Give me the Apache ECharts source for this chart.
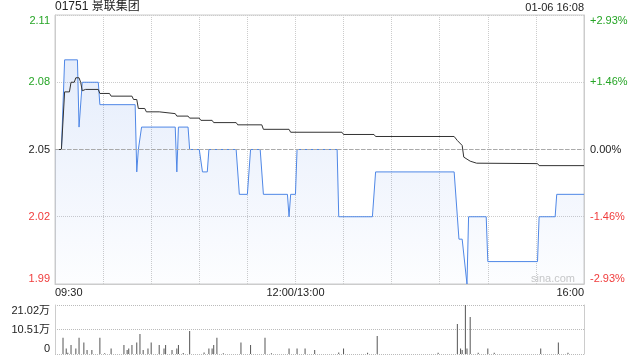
<!DOCTYPE html>
<html>
<head>
<meta charset="utf-8">
<script src="https://cdn.jsdelivr.net/npm/echarts@6/dist/echarts.min.js"></script>
<style>
html,body{margin:0;padding:0;background:#fff;}
#chart{width:640px;height:360px;}
</style>
</head>
<body>
<div id="chart"></div>
<script>
// ---- data ----
const stockTitle = '01751 景联集团';
const stampText = '01-06 16:08';
const prevClose = 2.05;
const priceMin = 1.99;
const priceMax = 2.11;
const priceStep = 0.03;
const volMax = 210200;

const xTickTimes = ['09:30', '12:00', '16:00'];
const xTickLabels = ['09:30', '12:00/13:00', '16:00'];

const priceTimes = ['09:30','09:34','09:36','09:44','09:45','09:47','09:57','09:58','10:20','10:21','10:22','10:24',
  '10:45','10:46','10:47','10:53','10:54','11:00','11:02','11:05','11:06','11:23','11:25','11:30','11:32','11:38',
  '11:40','11:55','11:56','11:57','12:00','13:01','13:26','13:27','13:48','13:50','14:39','14:41','14:42','14:44',
  '14:47','14:48','14:59','15:00','15:31','15:32','15:42','15:43','16:00'];
const priceValues = [2.05,2.05,2.09,2.09,2.06,2.08,2.08,2.07,2.07,2.04,2.05,2.06,
  2.06,2.04,2.06,2.06,2.05,2.05,2.04,2.04,2.05,2.05,2.03,2.03,2.05,2.05,
  2.03,2.03,2.02,2.03,2.03,2.05,2.05,2.02,2.02,2.04,2.04,2.02,2.01,2.01,
  1.99,2.02,2.02,2.00,2.00,2.02,2.02,2.03,2.03];

const avgTimes = ['09:30','09:34','09:36','09:39','09:40','09:42','09:43','09:45','09:46','09:47','09:49','09:57',
  '09:58','10:04','10:05','10:18','10:19','10:21','10:22','10:26','10:27','10:35','10:36','10:45','10:46','10:53',
  '10:54','11:00','11:01','11:08','11:09','11:23','11:24','11:39','11:40','11:56','11:57','13:29','13:30','13:49',
  '13:50','14:39','14:41','14:44','14:45','14:46','14:49','14:53','14:54','15:31','15:32','16:00'];
const avgValues = [2.05,2.05,2.0757,2.0757,2.08,2.08,2.082,2.082,2.08,2.0762,2.0768,2.0768,
  2.075,2.075,2.0738,2.0738,2.0723,2.0723,2.0683,2.0683,2.0668,2.0668,2.066,2.066,2.0649,2.0649,
  2.064,2.064,2.063,2.063,2.062,2.062,2.061,2.061,2.059,2.059,2.0577,2.0577,2.0567,2.0567,
  2.0558,2.0558,2.054,2.0518,2.0466,2.046,2.0448,2.0439,2.0437,2.0437,2.0428,2.0428];

const volTimes = ['09:35','09:37','09:38','09:40','09:43','09:45','09:48','09:50','09:53','09:58','10:01','10:05',
  '10:13','10:15','10:16','10:18','10:21','10:23','10:25','10:28','10:30','10:35','10:38','10:39','10:43','10:46',
  '10:47','10:50','10:54','11:03','11:06','11:08','11:09','11:11','11:15','11:26','11:32','11:41','11:45','11:56',
  '13:01','13:06','13:12','13:27','13:30','13:45','13:51','14:29','14:41','14:43','14:44','14:46','14:47','14:49',
  '14:54','15:00','15:04','15:33','15:44','15:50'];
const volValues = [70000,24000,5000,39000,24000,70000,49000,17000,17000,70000,3000,24000,
  39000,17000,24000,39000,49000,86000,17000,24000,49000,39000,24000,39000,17000,24000,
  39000,4000,99000,6000,24000,24000,39000,70000,3000,49000,39000,70000,3000,24000,
  24000,24000,17000,6000,24000,5000,77000,5000,129000,24000,17000,210200,24000,159000,
  5000,24000,5000,24000,49000,5000];

// ---- helpers ----
function toIdx(t) {
  const p = t.split(':').map(Number);
  let m = p[0] * 60 + p[1] - (9 * 60 + 30);
  if (p[0] >= 13) m -= 60;
  return m;
}
const pair = (ts, vs) => ts.map((t, i) => [toIdx(t), vs[i]]);
const xLabelMap = {};
xTickTimes.forEach((t, i) => { xLabelMap[toIdx(t)] = xTickLabels[i]; });

const GREEN = '#26a526', RED = '#f03c3c', TXT = '#222';
const FONT = 'Arial, "Liberation Sans", "Noto Sans CJK SC", sans-serif';
const colorFor = v => {
  const d = Math.round((v - prevClose) * 10000);
  return d > 0 ? GREEN : (d < 0 ? RED : TXT);
};

const chart = echarts.init(document.getElementById('chart'), null, {renderer: 'canvas'});
chart.setOption({
  animation: false,
  backgroundColor: '#fff',
  textStyle: {fontFamily: FONT},
  title: [
    {text: stockTitle, left: 55, top: 1, padding: 0,
     textStyle: {fontSize: 12, fontWeight: 'normal', color: TXT, fontFamily: FONT}},
    {text: stampText, right: 56, top: 2, padding: 0,
     textStyle: {fontSize: 11, fontWeight: 'normal', color: TXT, fontFamily: FONT}}
  ],
  graphic: [{type: 'text', left: 531, top: 273, silent: true,
    style: {text: 'sina.com', fill: '#c8c8c8', font: '11px Arial, "Liberation Sans", sans-serif'}}],
  grid: [
    {left: 55, right: 56, top: 15, height: 269, show: true, borderColor: '#ccc', borderWidth: 1},
    {left: 55, right: 56, top: 305, height: 49}
  ],
  xAxis: [
    {type: 'value', gridIndex: 0, min: 0, max: 330, interval: 30,
     axisLine: {show: true, lineStyle: {color: '#ccc'}}, axisTick: {show: false},
     splitLine: {show: true, lineStyle: {type: 'dotted', color: '#ccc'}},
     axisLabel: {fontSize: 11, color: TXT, margin: 3, showMinLabel: true, showMaxLabel: true,
       alignMinLabel: 'left', alignMaxLabel: 'right',
       formatter: v => xLabelMap[v] || ''}},
    {type: 'value', gridIndex: 1, min: 0, max: 330, interval: 30, show: false}
  ],
  yAxis: [
    {type: 'value', gridIndex: 0, min: priceMin, max: priceMax, interval: priceStep, position: 'left',
     axisLine: {show: true, lineStyle: {color: '#ccc'}}, axisTick: {show: false},
     splitLine: {show: true, lineStyle: {type: 'dotted', color: '#ccc'}},
     axisLabel: {fontSize: 11, margin: 5, color: v => colorFor(v),
       verticalAlignMinLabel: 'bottom', verticalAlignMaxLabel: 'top',
       formatter: v => v.toFixed(2)}},
    {type: 'value', gridIndex: 0, min: priceMin, max: priceMax, interval: priceStep, position: 'right',
     axisLine: {show: true, lineStyle: {color: '#ccc'}}, axisTick: {show: false}, splitLine: {show: false},
     axisLabel: {fontSize: 11, margin: 6, color: v => colorFor(v),
       verticalAlignMinLabel: 'bottom', verticalAlignMaxLabel: 'top',
       formatter: v => {
         const p = (v - prevClose) / prevClose * 100;
         const s = Math.abs(p) < 0.005 ? '0.00' : p.toFixed(2);
         return (p >= 0.005 ? '+' : '') + s + '%';
       }}},
    {type: 'value', gridIndex: 1, min: 0, max: volMax, interval: volMax / 2, position: 'left',
     axisLine: {show: true, lineStyle: {color: '#ccc'}}, axisTick: {show: false},
     splitLine: {show: true, lineStyle: {type: 'dotted', color: '#bbb'}},
     axisLabel: {fontSize: 11, margin: 5, color: TXT,
       verticalAlignMinLabel: 'bottom', verticalAlignMaxLabel: 'top',
       formatter: v => v === 0 ? '0' : (v / 10000).toFixed(2) + '万'}},
    {type: 'value', gridIndex: 1, min: 0, max: volMax, position: 'right',
     axisLine: {show: true, lineStyle: {color: '#ccc'}}, axisTick: {show: false},
     splitLine: {show: false}, axisLabel: {show: false}}
  ],
  series: [
    {type: 'line', xAxisIndex: 0, yAxisIndex: 0, data: pair(priceTimes, priceValues),
     symbol: 'none', silent: true, z: 3,
     lineStyle: {color: '#4f87e6', width: 1},
     areaStyle: {color: new echarts.graphic.LinearGradient(0, 0, 0, 1, [
       {offset: 0, color: 'rgba(70,125,230,0.2)'},
       {offset: 1, color: 'rgba(70,125,230,0.02)'}])},
     markLine: {silent: true, symbol: 'none', label: {show: false},
       lineStyle: {type: 'dashed', color: '#aaa', width: 1},
       data: [{yAxis: prevClose}]}},
    {type: 'line', xAxisIndex: 0, yAxisIndex: 0, data: pair(avgTimes, avgValues),
     symbol: 'none', silent: true, z: 4,
     lineStyle: {color: '#333', width: 1}},
    {type: 'bar', xAxisIndex: 1, yAxisIndex: 2, data: pair(volTimes, volValues),
     barWidth: 1, silent: true, itemStyle: {color: '#555'}}
  ]
});
</script>
</body>
</html>
